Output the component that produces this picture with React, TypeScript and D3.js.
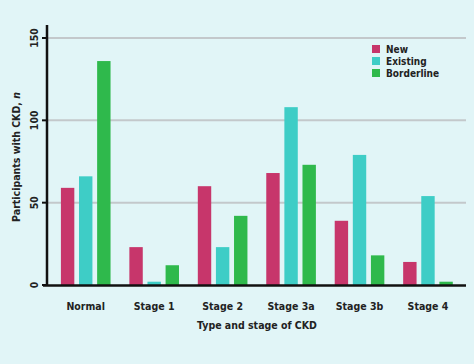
import React from 'react';
import * as d3 from 'd3';

const stages = ['Normal', 'Stage 1', 'Stage 2', 'Stage 3a', 'Stage 3b', 'Stage 4'];
const seriesNames = ['New', 'Existing', 'Borderline'];
const newVals = [59, 23, 60, 68, 39, 14];
const existingVals = [66, 2, 23, 108, 79, 54];
const borderlineVals = [136, 12, 42, 73, 18, 2];
const yTicks = [0, 50, 100, 150];
const colors = ['#c7366b', '#3ecdc6', '#2fb94c'];

const W = 474;
const H = 364;
const font = '"DejaVu Sans", sans-serif';

const App: React.FC = () => {
  const left = 47;
  const right = 466;
  const x = d3.scaleBand().domain(stages).range([51.5, 462.2]).paddingInner(0.275).paddingOuter(0.1375);
  const x1 = d3.scaleBand().domain(seriesNames).range([0, x.bandwidth()]).paddingInner(0.26);
  const y = d3.scaleLinear().domain([0, 150]).range([285, 38]);
  const series = [newVals, existingVals, borderlineVals];

  return (
    <svg width={W} height={H} style={{ display: 'block', position: 'absolute', left: 0, top: 0 }}>
      <rect width={W} height={H} fill="#e1f5f7" />
      {/* gridlines */}
      {yTicks.filter((t) => t > 0).map((t) => (
        <line key={t} x1={left} x2={right} y1={y(t)} y2={y(t)} stroke="#c3c8cb" strokeWidth={2} />
      ))}
      {/* bars */}
      {stages.map((s, i) => (
        <g key={s} transform={`translate(${x(s)},0)`}>
          {seriesNames.map((n, j) => (
            <rect key={n} x={x1(n)} width={x1.bandwidth()} y={y(series[j][i])}
              height={y(0) - y(series[j][i])} fill={colors[j]} />
          ))}
        </g>
      ))}
      {/* axes */}
      <line x1={left} x2={left} y1={25} y2={286} stroke="#111" strokeWidth={2.5} />
      <line x1={43} x2={right} y1={285.5} y2={285.5} stroke="#111" strokeWidth={2.5} />
      {yTicks.map((t) => (
        <g key={t}>
          <line x1={42} x2={left} y1={y(t)} y2={y(t)} stroke="#111" strokeWidth={2} />
          <text transform={`translate(38,${y(t)}) rotate(-90)`} textAnchor="middle"
            fontFamily={font} fontWeight="bold" fontStretch="condensed" fontSize={10.5} fill="#222">{t}</text>
        </g>
      ))}
      {stages.map((s) => (
        <text key={s} x={(x(s) as number) + x.bandwidth() / 2} y={310} textAnchor="middle"
          fontFamily={font} fontWeight="bold" fontStretch="condensed" fontSize={10.5} fill="#222">{s}</text>
      ))}
      <text x={257} y={329} textAnchor="middle" fontFamily={font} fontWeight="bold"
        fontStretch="condensed" fontSize={10.5} fill="#222">Type and stage of CKD</text>
      <text transform="translate(20,157) rotate(-90)" textAnchor="middle" fontFamily={font}
        fontWeight="bold" fontStretch="condensed" fontSize={10.5} fill="#222">
        Participants with CKD, <tspan fontStyle="italic">n</tspan>
      </text>
      {/* legend */}
      {seriesNames.map((n, j) => (
        <g key={n} transform={`translate(372,${45 + j * 12})`}>
          <rect width={8} height={8} fill={colors[j]} />
          <text x={14} y={8} fontFamily={font} fontWeight="bold" fontStretch="condensed"
            fontSize={10} fill="#222">{n}</text>
        </g>
      ))}
    </svg>
  );
};

export default App;
